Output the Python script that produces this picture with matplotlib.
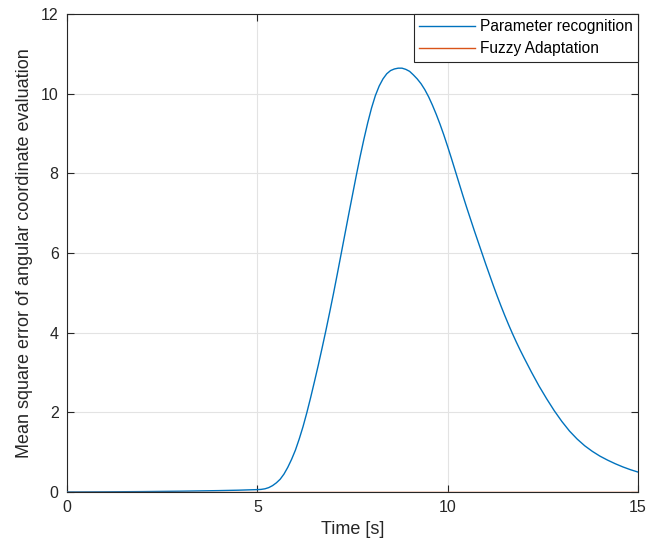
import numpy as np
import matplotlib
matplotlib.use("Agg")
import matplotlib.pyplot as plt

plt.rcParams['font.family'] = ['Liberation Sans', 'DejaVu Sans']

# 读取的曲线数据 (参数识别)
t_param = [0, 1, 2, 3, 4, 4.5, 5.0, 5.1, 5.2, 5.3, 5.4, 5.5, 5.6, 5.7, 5.8, 5.9,
           6.0, 6.1, 6.2, 6.3, 6.4, 6.5, 6.6, 6.7, 6.8, 6.9, 7.0, 7.1, 7.2, 7.3,
           7.4, 7.5, 7.6, 7.7, 7.8, 7.9, 8.0, 8.1, 8.2, 8.3, 8.4, 8.5, 8.6, 8.7,
           8.8, 8.9, 9.0, 9.1, 9.2, 9.3, 9.4, 9.5, 9.6, 9.7, 9.8, 9.9, 10.0, 10.1,
           10.2, 10.3, 10.4, 10.5, 10.6, 10.7, 10.8, 10.9, 11.0, 11.1, 11.2, 11.3,
           11.4, 11.5, 11.6, 11.7, 11.8, 11.9, 12.0, 12.2, 12.4, 12.6, 12.8, 13.0,
           13.2, 13.4, 13.6, 13.8, 14.0, 14.2, 14.4, 14.6, 14.8, 15.0]
y_param = [0, 0.004, 0.01, 0.02, 0.035, 0.045, 0.06, 0.065, 0.08, 0.11, 0.16, 0.23,
           0.32, 0.45, 0.62, 0.82, 1.05, 1.33, 1.64, 1.99, 2.37, 2.77, 3.18, 3.61,
           4.05, 4.51, 4.98, 5.47, 5.97, 6.47, 6.97, 7.46, 7.95, 8.42, 8.86, 9.27,
           9.64, 9.95, 10.19, 10.37, 10.5, 10.58, 10.62, 10.64, 10.64, 10.61, 10.56,
           10.47, 10.37, 10.25, 10.1, 9.92, 9.71, 9.48, 9.23, 8.96, 8.67, 8.37, 8.06,
           7.75, 7.44, 7.14, 6.85, 6.56, 6.28, 6.0, 5.72, 5.45, 5.18, 4.92, 4.67,
           4.43, 4.2, 3.98, 3.77, 3.57, 3.38, 3.01, 2.66, 2.34, 2.04, 1.77, 1.53,
           1.33, 1.16, 1.02, 0.9, 0.8, 0.71, 0.63, 0.56, 0.5]

# 模糊自适应
t_fuzzy = [0, 5, 10, 15]
y_fuzzy = [0.01, 0.01, 0.01, 0.01]

fig = plt.figure(figsize=(6.6, 5.51), dpi=100)
ax = fig.add_axes([0.1015, 0.1071, 0.8652, 0.8675])

ax.plot(t_param, y_param, color='#0072BD', lw=1.0, label='Parameter recognition', zorder=3)
ax.plot(t_fuzzy, y_fuzzy, color='#D95319', lw=1.0, label='Fuzzy Adaptation', zorder=3)

ax.set_xlim(0, 15)
ax.set_ylim(0, 12)
ax.set_xticks([0, 5, 10, 15])
ax.set_yticks(range(0, 13, 2))
ax.grid(True, color='#e3e3e3', lw=0.8)
ax.set_axisbelow(True)
ax.tick_params(direction='in', top=True, right=True, length=5, width=0.8,
               labelsize=11.5, colors='#262626', pad=6)
for s in ax.spines.values():
    s.set_color('#262626')
    s.set_linewidth(0.8)

ax.set_xlabel('Time [s]', fontsize=13, color='#262626', labelpad=4)
ax.set_ylabel('Mean square error of angular coordinate evaluation', fontsize=13,
              color='#262626', labelpad=6)

leg = ax.legend(loc='upper right', borderaxespad=0, fontsize=11.2, fancybox=False,
                framealpha=1, edgecolor='#262626', handlelength=3.6,
                handletextpad=0.3, borderpad=0.35, labelspacing=0.45)
leg.get_frame().set_linewidth(0.8)

fig.savefig('out.png', dpi=100)
